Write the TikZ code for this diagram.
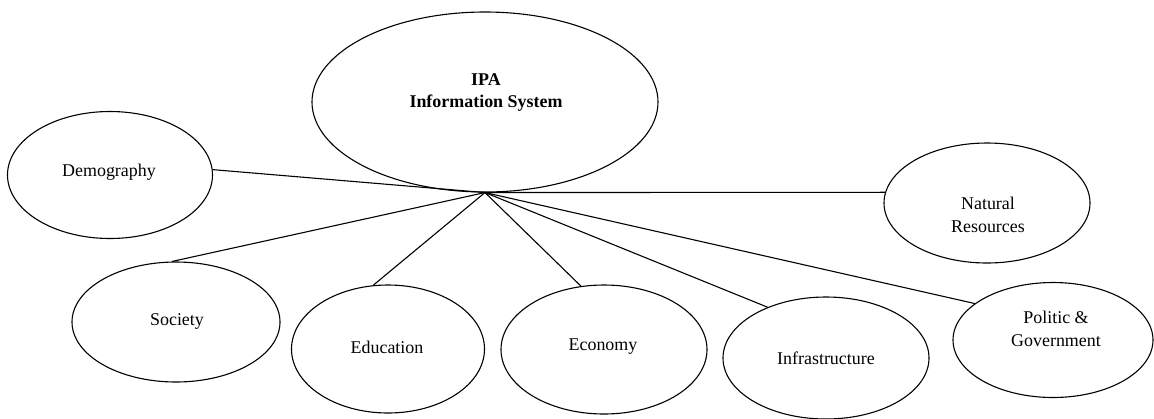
\documentclass[tikz,border=0pt]{standalone}
\usepackage{fontspec}
\setmainfont{Liberation Serif}
\usetikzlibrary{shapes.geometric}
\begin{document}
\begin{tikzpicture}[x=1bp,y=-1bp,
  ell/.style={draw, ellipse, line width=1.1bp, inner sep=0pt},
  lbl/.style={font=\fontsize{18}{23}\selectfont, align=center, inner sep=0pt},
  conn/.style={draw, line width=1.1bp}]
\useasboundingbox (0,0) rectangle (1154,418);
% ellipses
\node[ell, minimum width=346bp, minimum height=180bp] (ipa) at (485,102) {};
\node[ell, minimum width=205bp, minimum height=127bp] (demo) at (110,175) {};
\node[ell, minimum width=206bp, minimum height=120bp] (nat) at (987,203) {};
\node[ell, minimum width=208bp, minimum height=120bp] (soc) at (176,322) {};
\node[ell, minimum width=193bp, minimum height=128bp] (edu) at (388,349) {};
\node[ell, minimum width=206bp, minimum height=129bp] (eco) at (604,349.5) {};
\node[ell, minimum width=206bp, minimum height=122bp] (inf) at (826,358) {};
\node[ell, minimum width=200bp, minimum height=115bp] (pol) at (1053,340) {};
% texts
\node[lbl, font=\fontsize{18}{23}\selectfont\bfseries] (ipat) at (486,92.5) {IPA\\Information System};
\node[lbl] (demot) at (109,172) {Demography};
\node[lbl] (natt) at (988,214.5) {Natural\\Resources};
\node[lbl] (soct) at (177,321) {Society};
\node[lbl] (edut) at (387,347) {Education};
\node[lbl] (ecot) at (603,347) {Economy};
\node[lbl] (inft) at (826,358) {Infrastructure};
\node[lbl] (polt) at (1056,328.5) {Politic \&\\Government};
% hub
\coordinate (hub) at (ipa.south);
% connectors
\draw[conn] (hub) -- (demo.3);
\draw[conn] (hub) -- (nat.174);
\draw[conn] (hub) -- (soc.94);
\draw[conn] (hub) -- (edu.103);
\draw[conn] (hub) -- (eco.110);
\draw[conn] (hub) -- (inf.139);
\draw[conn] (hub) -- (pol.155);
\end{tikzpicture}
\end{document}
